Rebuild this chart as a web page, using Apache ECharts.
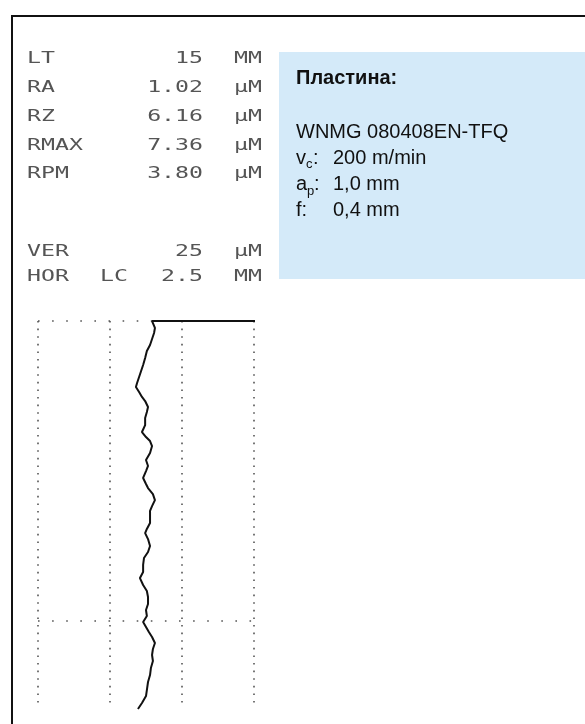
<!DOCTYPE html>
<html>
<head>
<meta charset="utf-8">
<script src="https://cdn.jsdelivr.net/npm/echarts@6/dist/echarts.min.js"></script>
<style>
  html, body { margin: 0; padding: 0; background: #fff; }
  #chart { width: 585px; height: 724px; }
</style>
</head>
<body>
<div id="chart"></div>
<script>
// printout readings
const readLabels = ['LT', 'RA', 'RZ', 'RMAX', 'RPM', 'VER', 'HOR'];
const readValues = ['15', '1.02', '6.16', '7.36', '3.80', '25', '2.5'];
const readUnits = ['MM', 'μM', 'μM', 'μM', 'μM', 'μM', 'MM'];

// insert info
const insertTitle = 'Пластина:';
const insertCode = 'WNMG 080408EN-TFQ';
const cutSpeed = '200 m/min';
const cutDepth = '1,0 mm';
const cutFeed = '0,4 mm';

// profile trace: height (µm, 25 per division) along length (mm, 2.5 per division)
const profileHeight = [78.1, 39.6, 39.9, 40.6, 40.3, 39.6, 38.9, 37.8, 37.2, 36.5, 35.8, 35.1, 34.4, 34.0,
  35.1, 36.1, 37.2, 38.2, 37.8, 37.2, 37.2, 36.1, 37.5, 38.9, 39.6, 38.9, 37.5, 38.2, 37.5, 36.5,
  37.5, 38.2, 39.9, 40.6, 39.6, 38.9, 38.9, 38.9, 37.8, 37.2, 38.2, 38.9, 38.2, 36.8, 36.5, 36.5,
  35.4, 36.5, 37.8, 38.2, 38.2, 37.5, 37.8, 36.5, 37.5, 38.5, 39.6, 40.6, 39.9, 39.6, 39.9, 39.2,
  38.9, 38.2, 37.8, 37.5, 36.1, 34.7];
const profileLength = [0, 0, 0.017, 0.058, 0.1, 0.15, 0.2, 0.25, 0.308, 0.367, 0.417, 0.467, 0.517, 0.55,
  0.592, 0.633, 0.667, 0.717, 0.758, 0.808, 0.867, 0.925, 0.967, 1.0, 1.042, 1.1, 1.158, 1.208, 1.25, 1.308,
  1.358, 1.392, 1.442, 1.492, 1.542, 1.583, 1.633, 1.683, 1.733, 1.767, 1.817, 1.875, 1.925, 1.975, 2.033, 2.092,
  2.142, 2.2, 2.25, 2.3, 2.358, 2.408, 2.458, 2.508, 2.55, 2.592, 2.633, 2.683, 2.733, 2.783, 2.833, 2.892,
  2.95, 3.008, 3.075, 3.125, 3.183, 3.233];

const chart = echarts.init(document.getElementById('chart'));

const printFont = '16px "DejaVu Sans Mono"';
const printColor = '#555';
const rowY = [59, 88, 117, 146, 174, 252, 277];

const graphic = [
  { type: 'rect', shape: { x: 12, y: 16, width: 700, height: 800 }, style: { fill: 'none', stroke: '#111', lineWidth: 2 } },
  { type: 'rect', shape: { x: 279, y: 52, width: 310, height: 227 }, style: { fill: '#d4eaf9' } },
];

readLabels.forEach((lab, i) => {
  graphic.push({ type: 'text', x: 27, y: rowY[i], scaleX: 1.45,
    style: { text: lab, font: printFont, fill: printColor, textAlign: 'left', textVerticalAlign: 'middle' } });
  graphic.push({ type: 'text', x: 203, y: rowY[i], scaleX: 1.45,
    style: { text: readValues[i], font: printFont, fill: printColor, textAlign: 'right', textVerticalAlign: 'middle' } });
  graphic.push({ type: 'text', x: 234, y: rowY[i], scaleX: 1.45,
    style: { text: readUnits[i], font: printFont, fill: printColor, textAlign: 'left', textVerticalAlign: 'middle' } });
});
graphic.push({ type: 'text', x: 100, y: rowY[6], scaleX: 1.45,
  style: { text: 'LC', font: printFont, fill: printColor, textAlign: 'left', textVerticalAlign: 'middle' } });

const infoFont = '20px "Liberation Sans", Arial, sans-serif';
const subFont = '13px "Liberation Sans", Arial, sans-serif';
const infoColor = '#111';
function infoText(x, y, text, font) {
  return { type: 'text', x: x, y: y, style: { text: text, font: font || infoFont, fill: infoColor, textVerticalAlign: 'bottom' } };
}
graphic.push(infoText(296, 88, insertTitle, 'bold ' + infoFont));
graphic.push(infoText(296, 142, insertCode));
graphic.push(infoText(296, 168, 'v'));
graphic.push(infoText(306, 171, 'c', subFont));
graphic.push(infoText(313, 168, ':'));
graphic.push(infoText(333, 168, cutSpeed));
graphic.push(infoText(296, 194, 'a'));
graphic.push(infoText(307, 198, 'p', subFont));
graphic.push(infoText(314, 194, ':'));
graphic.push(infoText(333, 194, cutDepth));
graphic.push(infoText(296, 220, 'f:'));
graphic.push(infoText(333, 220, cutFeed));

const option = {
  animation: false,
  backgroundColor: '#fff',
  grid: { left: 38, top: 321, width: 216, height: 382 },
  xAxis: {
    type: 'value',
    min: 0,
    max: 75,
    interval: 25,
    axisLine: { show: false },
    axisTick: { show: false },
    axisLabel: { show: false },
    splitLine: { show: true, lineStyle: { color: '#555', width: 1.6, type: [1.6, 6] } },
  },
  yAxis: {
    type: 'value',
    inverse: true,
    min: 0,
    max: 3.183,
    interval: 2.5,
    axisLine: { show: false },
    axisTick: { show: false },
    axisLabel: { show: false },
    splitLine: { show: true, showMaxLine: false, lineStyle: { color: '#555', width: 1.6, type: [1.6, 12.5] } },
  },
  series: [
    {
      type: 'line',
      data: profileHeight.map((h, i) => [h, profileLength[i]]),
      showSymbol: false,
      clip: false,
      lineStyle: { color: '#111', width: 2 },
    },
  ],
  graphic: graphic,
};

chart.setOption(option);
</script>
</body>
</html>
